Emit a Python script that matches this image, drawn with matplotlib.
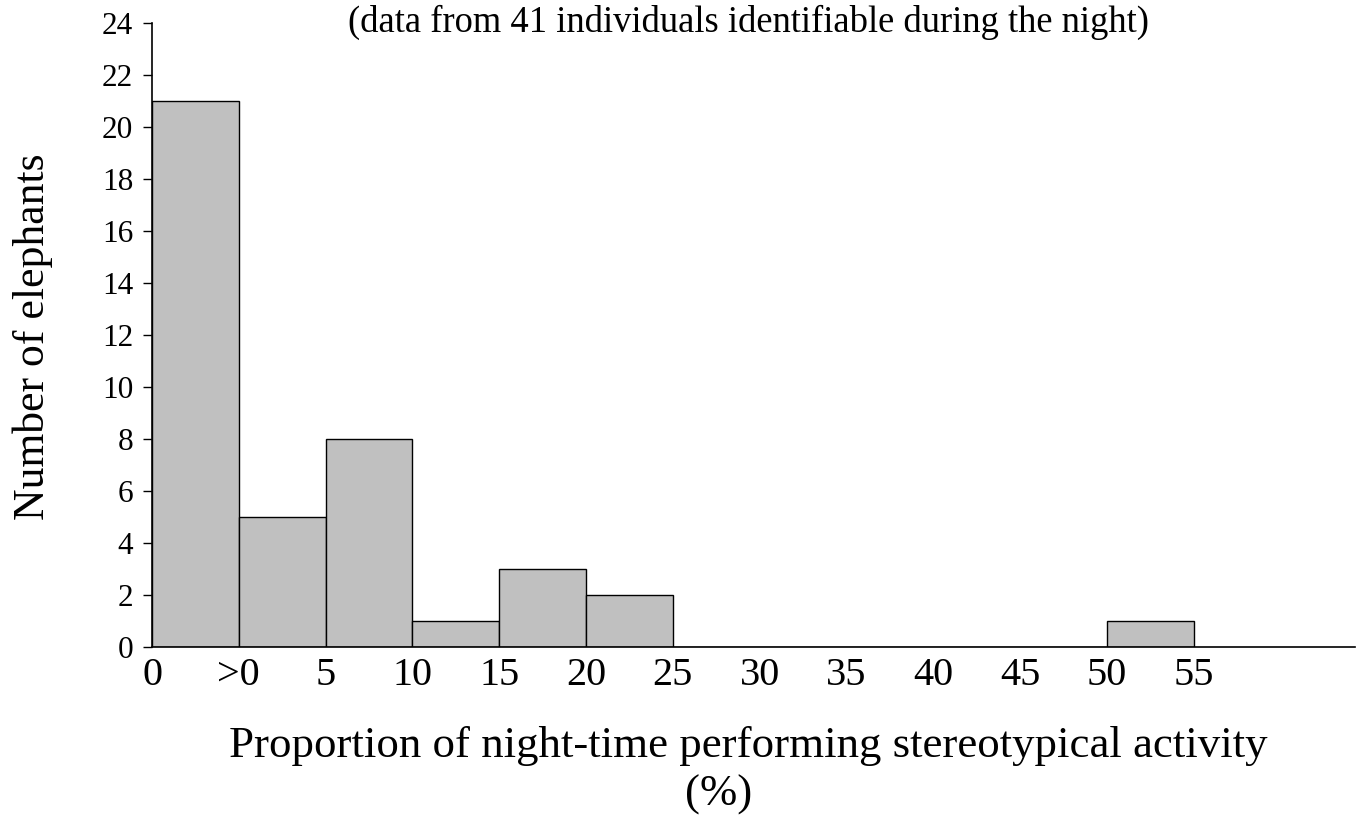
import matplotlib
matplotlib.use("Agg")
import matplotlib.pyplot as plt
import numpy as np

plt.rcParams['font.family'] = ['Liberation Serif', 'DejaVu Serif']

bin_labels = ['0', '>0', '5', '10', '15', '20', '25', '30', '35', '40', '45', '50', '55']
counts = [21, 5, 8, 1, 3, 2, 0, 0, 0, 0, 0, 1]
title = "(data from 41 individuals identifiable during the night)"
xlabel_line1 = "Proportion of night-time performing stereotypical activity"
xlabel_line2 = "(%)"
ylabel = "Number of elephants"

W, H = 1359, 815
fig = plt.figure(figsize=(W/100, H/100), dpi=100)
ax = fig.add_axes([152/W, (H-647)/H, (1355-152)/W, (647-23)/H])

pos = np.arange(len(counts))
ax.bar(pos, counts, width=1.0, align='edge', color='#c0c0c0', edgecolor='black', linewidth=1.0)

ax.set_xlim(0, 13.86)
ax.set_ylim(0, 24)
ax.set_yticks(np.arange(0, 25, 2))
ax.set_xticks(np.arange(len(bin_labels)))
ax.set_xticklabels(bin_labels)
ax.tick_params(axis='x', length=0, pad=7, labelsize=29)
ax.tick_params(axis='y', length=6.5, width=1, direction='out', pad=7, labelsize=22.5)
for s in ['top', 'right']:
    ax.spines[s].set_visible(False)
for s in ['left', 'bottom']:
    ax.spines[s].set_linewidth(1.2)

fig.text(748/W, 1-32/H, title, ha='center', va='baseline', fontsize=26.3)
fig.text(748/W, 1-757/H, xlabel_line1, ha='center', va='baseline', fontsize=32.3)
fig.text(719/W, 1-806/H, xlabel_line2, ha='center', va='baseline', fontsize=32.3)
fig.text(33/W, 1-337/H, ylabel, ha='center', va='center', rotation=90, fontsize=31.5)

fig.savefig('out.png', dpi=100)
